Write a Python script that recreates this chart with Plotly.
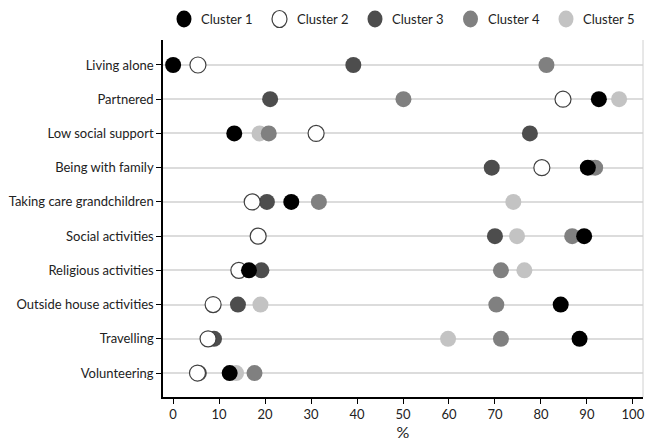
import plotly.graph_objects as go

categories = ["Living alone", "Partnered", "Low social support", "Being with family",
              "Taking care grandchildren", "Social activities", "Religious activities",
              "Outside house activities", "Travelling", "Volunteering"]

cluster1 = [0.0, 92.6, 13.3, 90.2, 25.7, 89.4, 16.5, 84.3, 88.4, 12.3]
cluster2 = [5.4, 84.8, 31.1, 80.2, 17.2, 18.5, 14.3, 8.7, 7.6, 5.3]
cluster3 = [39.2, 21.1, 77.6, 69.3, 20.4, 70.0, 19.2, 14.1, 8.9, 5.6]
cluster4 = [81.2, 50.1, 20.8, 91.8, 31.7, 86.8, 71.3, 70.3, 71.3, 17.7]
cluster5 = [None, 97.0, 18.8, 91.0, 74.0, 74.8, 76.4, 19.0, 59.8, 13.7]

names = ["Cluster 1", "Cluster 2", "Cluster 3", "Cluster 4", "Cluster 5"]
series = [cluster1, cluster2, cluster3, cluster4, cluster5]
fills = ["#000000", "#ffffff", "#4d4d4d", "#808080", "#c3c3c3"]
lines = ["#000000", "#404040", "#4d4d4d", "#808080", "#c3c3c3"]

# plot-area geometry (pixels) used for the hand-built legend
W, H = 645, 443
ML, MR, MT, MB = 163, 2, 40, 46
PW, PH = W - ML - MR, H - MT - MB
legend_first_px, legend_step_px, legend_y_px = 184, 95.5, 19

fig = go.Figure()
# draw cluster 5 first so cluster 1 ends on top
for i in reversed(range(5)):
    fig.add_trace(go.Scatter(
        x=series[i], y=categories, mode="markers", name=names[i],
        showlegend=False,
        marker=dict(size=16, color=fills[i],
                    line=dict(color=lines[i], width=1.2 if i == 1 else 0)),
    ))

font = "Lato, 'Open Sans', sans-serif"
fig.update_layout(
    width=W, height=H,
    margin=dict(l=ML, r=MR, t=MT, b=MB, autoexpand=False),
    plot_bgcolor="white", paper_bgcolor="white",
    font=dict(family=font, size=13, color="#222222"),
    showlegend=False,
    xaxis=dict(range=[-2.2, 102.2], tickvals=list(range(0, 101, 10)),
               showgrid=False, zeroline=False, showline=True, linecolor="#000000",
               linewidth=1.5, ticks="outside", ticklen=5, tickcolor="#000000",
               title=dict(text="%", standoff=4), tickfont=dict(size=13),
               mirror=False),
    yaxis=dict(categoryorder="array", categoryarray=categories,
               autorange=False, range=[9.7, -0.73],
               showgrid=True, gridcolor="#dcdcdc", gridwidth=2,
               showline=True, linecolor="#000000", linewidth=1.5,
               ticks="outside", ticklen=5, tickcolor="#000000",
               zeroline=False, tickfont=dict(size=13)),
)
fig.add_shape(type="line", xref="paper", yref="paper", x0=1, x1=1, y0=0, y1=1,
              line=dict(color="#d0d0d0", width=1))

# legend: circle + label for each cluster, in a row above the plot
ly = (H - MB - legend_y_px) / PH
for i, name in enumerate(names):
    cx_px = legend_first_px + i * legend_step_px
    cx = (cx_px - ML) / PW
    fig.add_shape(type="circle", xref="paper", yref="paper",
                  xsizemode="pixel", ysizemode="pixel", xanchor=cx, yanchor=ly,
                  x0=-7.5, x1=7.5, y0=-8.5, y1=8.5,
                  fillcolor=fills[i],
                  line=dict(color=lines[i], width=1.2 if i == 1 else 0))
    fig.add_annotation(x=(cx_px + 15 - ML) / PW, y=ly, xref="paper", yref="paper",
                       text=name, showarrow=False, xanchor="left", yanchor="middle",
                       font=dict(size=13, family=font, color="#222222"))

fig.write_html("out.html", config={"displayModeBar": False},
               post_script="document.body.style.margin='0';")
